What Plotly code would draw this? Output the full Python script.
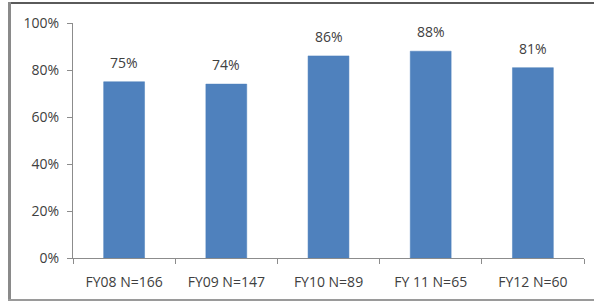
import plotly.graph_objects as go

categories = ["FY08 N=166", "FY09 N=147", "FY10 N=89", "FY 11 N=65", "FY12 N=60"]
values = [0.75, 0.74, 0.86, 0.88, 0.81]
labels = ["75%", "74%", "86%", "88%", "81%"]

W, H = 594, 302
L, R, T, B = 73, 10, 23, 44
pw, ph = W - L - R, H - T - B

font_fam = "'Open Sans', sans-serif"
txt_col = "#404040"


def px(xp):
    return (xp - L) / pw


def py(yp):
    return (T + ph - yp) / ph


fig = go.Figure()
fig.add_trace(go.Bar(
    x=categories, y=values, width=0.4,
    marker=dict(color="#4F81BD", line=dict(color="#4A7EBB", width=0.5)),
    hoverinfo="skip",
))

for c, v, t in zip(categories, values, labels):
    fig.add_annotation(x=c, y=v, text=t, showarrow=False, yanchor="bottom",
                       yshift=8, font=dict(size=14, color=txt_col, family=font_fam))

# outer chart border (frame of the pasted chart)
fig.add_shape(type="line", xref="paper", yref="paper",
              x0=px(8), x1=px(W + 2), y0=py(3), y1=py(3),
              line=dict(color="#5a5a5a", width=2))
fig.add_shape(type="line", xref="paper", yref="paper",
              x0=px(9.5), x1=px(9.5), y0=py(2), y1=py(301),
              line=dict(color="#8a8a8a", width=3))
fig.add_shape(type="line", xref="paper", yref="paper",
              x0=px(8), x1=px(W + 2), y0=py(300), y1=py(300),
              line=dict(color="#9a9a9a", width=2))

fig.update_layout(
    width=W, height=H, margin=dict(l=L, r=R, t=T, b=B),
    plot_bgcolor="white", paper_bgcolor="white", showlegend=False,
    font=dict(family=font_fam, size=14, color=txt_col),
    xaxis=dict(showline=True, linecolor="#8c8c8c", linewidth=1,
               ticks="outside", tickson="boundaries", ticklen=5,
               tickcolor="#8c8c8c", showgrid=False, ticklabelstandoff=11,
               tickfont=dict(size=14, color=txt_col)),
    yaxis=dict(range=[0, 1], dtick=0.2, tickformat=".0%", showline=True,
               linecolor="#8c8c8c", linewidth=1, ticks="outside", ticklen=5,
               tickcolor="#8c8c8c", showgrid=False, zeroline=False,
               ticklabelstandoff=5, tickfont=dict(size=14, color=txt_col)),
    bargap=0.6,
)

fig.write_html("out.html", config={"displayModeBar": False},
               post_script="document.body.style.margin='0';")
